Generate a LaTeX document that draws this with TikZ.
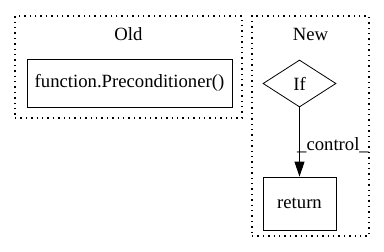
\documentclass[tikz,border=0pt]{standalone}
\usepackage{fontspec}
\setmainfont{Liberation Serif}
\usetikzlibrary{shapes.geometric,arrows.meta}

\begin{document}
\begin{tikzpicture}[x=1pt, y=-1pt,
  every node/.style = {font=\fontsize{18.7}{22}\selectfont},
  cluster/.style = {draw, dash pattern=on 1.4pt off 4pt, line width=1.2pt, inner sep=0pt},
  box/.style = {draw, thick, inner sep=0pt},
  cond/.style = {draw, thick, diamond, aspect=1.55, inner sep=0pt}]
\useasboundingbox (0,0) rectangle (384,252);
% the two groups
\node[cluster, minimum width=227pt, minimum height=102pt] (old) at (128.5,67) {};
\node (oldlbl) at (128.5,34) {Old};
\node[cluster, minimum width=117pt, minimum height=220pt] (new) at (310.5,126) {};
\node (newlbl) at (310.5,34) {New};
% nodes
\node[box, minimum width=205pt, minimum height=48pt] (pre) at (129.5,83) {function.Preconditioner()};
\node[cond, minimum width=73pt, minimum height=47pt] (if) at (299.5,83.5) {If};
\node[box, minimum width=73pt, minimum height=53pt] (ret) at (299.5,203.5) {return};
% edge
\draw[-{Triangle[length=15pt,width=10pt]}, thick] (if) -- (ret);
\node (ctl) at (333,145) {\_control\_};
\end{tikzpicture}
\end{document}
